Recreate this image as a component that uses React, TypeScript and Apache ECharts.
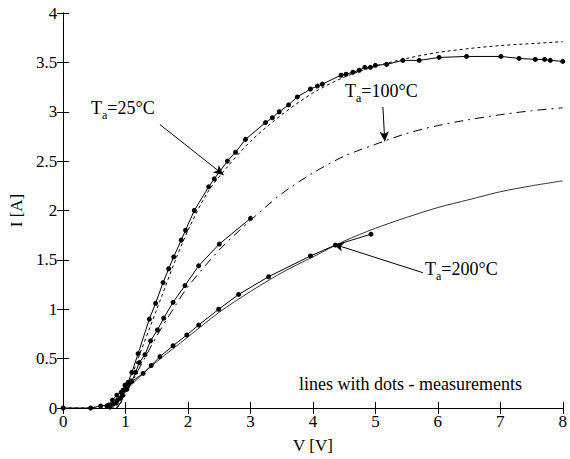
import React, { useEffect, useRef } from "react";
import * as echarts from "echarts";

// Measured data (lines with dots)
const meas25: number[][] = [
  [0, 0], [0.44, 0], [0.6, 0.02], [0.73, 0.03], [0.79, 0.08], [0.86, 0.13], [0.93, 0.16], [0.99, 0.23],
  [1.04, 0.26], [1.1, 0.36], [1.2, 0.55], [1.38, 0.9], [1.48, 1.06], [1.6, 1.27], [1.69, 1.41],
  [1.77, 1.53], [1.89, 1.7], [1.96, 1.8], [2.1, 2.0], [2.33, 2.24], [2.42, 2.32], [2.63, 2.5],
  [2.76, 2.59], [2.92, 2.72], [3.24, 2.89], [3.35, 2.94], [3.46, 3.0], [3.61, 3.07], [3.75, 3.15],
  [3.96, 3.23], [4.07, 3.26], [4.15, 3.28], [4.45, 3.37], [4.53, 3.38], [4.64, 3.4], [4.74, 3.42],
  [4.83, 3.45], [4.92, 3.45], [5.0, 3.47], [5.18, 3.48], [5.44, 3.52], [5.7, 3.52], [6.02, 3.55],
  [6.46, 3.56], [7.01, 3.56], [7.3, 3.54], [7.56, 3.53], [7.71, 3.53], [7.8, 3.52], [8.0, 3.51],
];
const meas100: number[][] = [
  [0.7, 0.02], [0.8, 0.04], [0.87, 0.08], [0.95, 0.13], [1.02, 0.19], [1.1, 0.27], [1.16, 0.36],
  [1.22, 0.46], [1.31, 0.54], [1.4, 0.68], [1.51, 0.79], [1.61, 0.91], [1.76, 1.07], [1.95, 1.24],
  [2.17, 1.44], [2.5, 1.66], [3.0, 1.92],
];
const meas200: number[][] = [
  [0.75, 0.01], [0.85, 0.05], [0.92, 0.1], [0.96, 0.18], [1.04, 0.24], [1.28, 0.35], [1.41, 0.43],
  [1.55, 0.52], [1.76, 0.63], [1.98, 0.74], [2.17, 0.84], [2.49, 1.0], [2.81, 1.15], [3.29, 1.33],
  [3.96, 1.54], [4.36, 1.65], [4.93, 1.76],
];

// Model curves
const model25: number[][] = [
  [0, 0], [0.85, 0], [0.92, 0.05], [1.0, 0.15], [1.2, 0.5], [1.5, 1.0], [1.8, 1.5], [2.0, 1.8],
  [2.3, 2.17], [2.6, 2.42], [3.0, 2.7], [3.5, 2.97], [4.0, 3.19], [4.5, 3.35], [5.0, 3.46],
  [5.5, 3.54], [6.0, 3.6], [6.5, 3.64], [7.0, 3.67], [7.5, 3.69], [8.0, 3.71],
];
const model100: number[][] = [
  [0.85, 0], [0.92, 0.05], [1.0, 0.14], [1.2, 0.38], [1.5, 0.73], [1.8, 1.04], [2.0, 1.23],
  [2.5, 1.6], [3.0, 1.9], [3.5, 2.17], [4.0, 2.38], [4.5, 2.55], [5.0, 2.67], [5.5, 2.78],
  [6.0, 2.86], [6.5, 2.92], [7.0, 2.97], [7.5, 3.01], [8.0, 3.04],
];
const model200: number[][] = [
  [0.85, 0], [0.92, 0.06], [1.0, 0.17], [1.2, 0.3], [1.5, 0.47], [2.0, 0.72], [2.5, 0.97],
  [3.0, 1.18], [3.5, 1.37], [4.0, 1.53], [4.5, 1.69], [5.0, 1.82], [5.5, 1.93], [6.0, 2.03],
  [6.5, 2.11], [7.0, 2.19], [7.5, 2.25], [8.0, 2.3],
];

// Annotation arrows (tail -> head, data coords)
const arrows: number[][][] = [
  [[1.55, 2.87], [2.57, 2.36]],
  [[5.12, 3.05], [5.15, 2.7]],
  [[5.76, 1.37], [4.33, 1.66]],
];

const FONT = "Liberation Serif";

export default function App() {
  const ref = useRef<HTMLDivElement>(null);
  useEffect(() => {
    if (!ref.current) return;
    const chart = echarts.init(ref.current, undefined, { renderer: "svg" });
    const axisCommon = {
      axisLine: { show: true, lineStyle: { color: "#000", width: 1 } },
      axisTick: { show: true, inside: true, length: 6, lineStyle: { color: "#000" } },
      splitLine: { show: false },
    };
    const measSeries = (data: number[][]) => ({
      type: "line",
      data,
      symbol: "circle",
      symbolSize: 5,
      showSymbol: true,
      itemStyle: { color: "#000" },
      lineStyle: { color: "#000", width: 1 },
      z: 3,
    });
    const modelSeries = (data: number[][], type: any, color = "#000") => ({
      type: "line",
      data,
      symbol: "none",
      smooth: 0.3,
      lineStyle: { color, width: 1, type },
      z: 2,
    });
    const sub = { fontSize: 12, fontFamily: FONT, fill: "#000", color: "#000", padding: [13, 0, 0, 0] };
    const labelStyle = (text: string) => ({
      text,
      fontSize: 18,
      fontFamily: FONT,
      fill: "#000",
      rich: { s: sub },
    });
    chart.setOption({
      animation: false,
      backgroundColor: "#fff",
      grid: { left: 62, right: 6, top: 13, bottom: 47 },
      xAxis: [
        {
          type: "value", min: 0, max: 8, interval: 1, ...axisCommon,
          name: "V [V]", nameLocation: "middle", nameGap: 29,
          nameTextStyle: { fontFamily: FONT, fontSize: 17, color: "#000" },
          axisLabel: { fontFamily: FONT, fontSize: 17, color: "#000", margin: 5 },
        },
        {
          type: "value", min: 0, max: 8, interval: 1, position: "top", ...axisCommon,
          axisLabel: { show: false },
        },
      ],
      yAxis: [
        {
          type: "value", min: 0, max: 4, interval: 0.5, ...axisCommon,
          name: "I [A]", nameLocation: "middle", nameGap: 30,
          nameTextStyle: { fontFamily: FONT, fontSize: 17, color: "#000" },
          axisLabel: { fontFamily: FONT, fontSize: 17, color: "#000", margin: 6 },
        },
        {
          type: "value", min: 0, max: 4, interval: 0.5, position: "right", ...axisCommon,
          axisLabel: { show: false },
        },
      ],
      series: [
        modelSeries(model25, [3, 3]),
        modelSeries(model100, [9, 5, 2, 5]),
        modelSeries(model200, "solid", "#333"),
        measSeries(meas25),
        measSeries(meas100),
        measSeries(meas200),
        {
          type: "line",
          data: [],
          markLine: {
            silent: true,
            symbol: ["none", "arrow"],
            symbolSize: [7, 10],
            label: { show: false },
            lineStyle: { color: "#000", width: 1, type: "solid" },
            data: arrows.map((a) => [{ coord: a[0] }, { coord: a[1] }]),
          },
        },
      ],
      graphic: [
        { type: "text", left: 91, top: 99, style: labelStyle("T{s|a}=25°C") },
        { type: "text", left: 345, top: 82, style: labelStyle("T{s|a}=100°C") },
        { type: "text", left: 425, top: 260, style: labelStyle("T{s|a}=200°C") },
        {
          type: "text", left: 299, top: 375,
          style: { text: "lines with dots - measurements", fill: "#000", fontSize: 18, fontFamily: FONT },
        },
      ],
    });
    return () => chart.dispose();
  }, []);
  return <div ref={ref} style={{ width: 570, height: 459, position: "absolute", left: 0, top: 0 }} />;
}
